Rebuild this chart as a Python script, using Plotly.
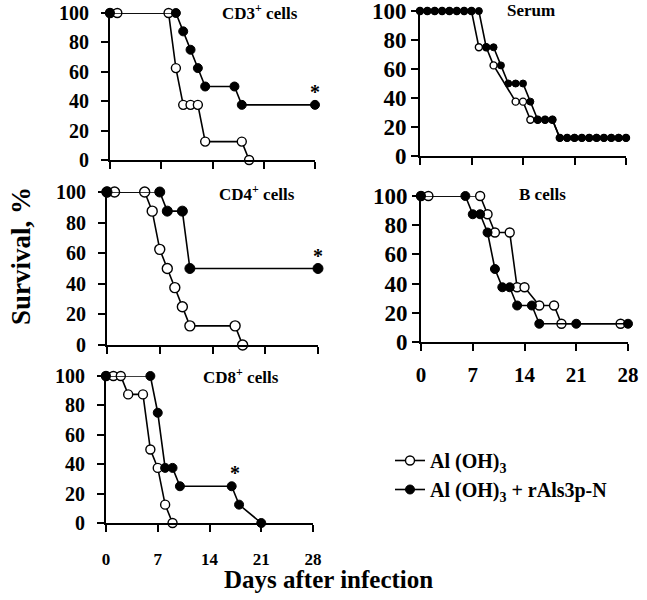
import plotly.graph_objects as go

# ---------------- data (days after infection, survival %) ----------------
ticks_days = [0, 7, 14, 21, 28]
ticks_surv = [0, 20, 40, 60, 80, 100]

cd3_ctrl_days = [0, 1, 8, 9, 10, 11, 12, 13, 18, 19]
cd3_ctrl_surv = [100, 100, 100, 62.5, 37.5, 37.5, 37.5, 12.5, 12.5, 0]
cd3_vacc_days = [0, 9, 10, 11, 12, 13, 17, 18, 28]
cd3_vacc_surv = [100, 100, 87.5, 75, 62.5, 50, 50, 37.5, 37.5]

serum_ctrl_days = [0, 1, 2, 3, 4, 5, 6, 7, 8, 9, 10, 13, 14, 15, 16, 17, 18,
                   19, 20, 21, 22, 23, 24, 25, 26, 27, 28]
serum_ctrl_surv = [100, 100, 100, 100, 100, 100, 100, 100, 75, 75, 62.5, 37.5, 37.5, 25, 25, 25, 25,
                   12.5, 12.5, 12.5, 12.5, 12.5, 12.5, 12.5, 12.5, 12.5, 12.5]
serum_vacc_days = [0, 1, 2, 3, 4, 5, 6, 7, 8, 9, 10, 11, 12, 13, 14, 15, 16, 17, 18,
                   19, 20, 21, 22, 23, 24, 25, 26, 27, 28]
serum_vacc_surv = [100, 100, 100, 100, 100, 100, 100, 100, 100, 75, 75, 62.5, 50, 50, 50, 37.5, 25, 25, 25,
                   12.5, 12.5, 12.5, 12.5, 12.5, 12.5, 12.5, 12.5, 12.5, 12.5]

cd4_ctrl_days = [0, 1, 5, 6, 7, 8, 9, 10, 11, 17, 18]
cd4_ctrl_surv = [100, 100, 100, 87.5, 62.5, 50, 37.5, 25, 12.5, 12.5, 0]
cd4_vacc_days = [0, 7, 8, 10, 11, 28]
cd4_vacc_surv = [100, 100, 87.5, 87.5, 50, 50]

b_ctrl_days = [0, 1, 8, 9, 10, 12, 13, 14, 16, 18, 19, 27]
b_ctrl_surv = [100, 100, 100, 87.5, 75, 75, 37.5, 37.5, 25, 25, 12.5, 12.5]
b_vacc_days = [0, 6, 7, 8, 9, 10, 11, 12, 13, 15, 16, 21, 28]
b_vacc_surv = [100, 100, 87.5, 87.5, 75, 50, 37.5, 37.5, 25, 25, 12.5, 12.5, 12.5]

cd8_ctrl_days = [0, 1, 2, 3, 5, 6, 7, 8, 9]
cd8_ctrl_surv = [100, 100, 100, 87.5, 87.5, 50, 37.5, 12.5, 0]
cd8_vacc_days = [0, 6, 7, 8, 9, 10, 17, 18, 21]
cd8_vacc_surv = [100, 100, 75, 37.5, 37.5, 25, 25, 12.5, 0]

panel_titles = ["CD3<sup>+</sup> cells", "Serum", "CD4<sup>+</sup> cells", "B cells", "CD8<sup>+</sup> cells"]
ctrl_name = "<b>Al (OH)<sub>3</sub></b>"
vacc_name = "<b>Al (OH)<sub>3</sub> + rAls3p-N</b>"
star_points = [(1, 28, 37.5), (3, 28, 50), (5, 17.5, 25)]   # (panel, day, survival) of significance marks

# ---------------- layout geometry ----------------
W, H = 647, 600
FONT = "Liberation Serif"

def dx(a, b):
    return [a / W, b / W]

def dy(top, bottom):
    return [1 - bottom / H, 1 - top / H]

panels = [
    dict(xd=dx(110, 315), yd=dy(13, 160), xlab=False, ms=9, yts=20, xts=17, xso=14, yso=8, tc=(260, 12)),
    dict(xd=dx(420, 626), yd=dy(11, 156), xlab=False, ms=7, yts=23, xts=21, xso=6, yso=0, tc=(531, 10)),
    dict(xd=dx(107, 318), yd=dy(192, 345), xlab=False, ms=10, yts=20, xts=17, xso=14, yso=8, tc=(257, 193)),
    dict(xd=dx(421, 628), yd=dy(196, 342), xlab=True, ms=9, yts=23, xts=21, xso=6, yso=0, tc=(542, 195)),
    dict(xd=dx(106, 313), yd=dy(376, 523), xlab=True, ms=9, yts=20, xts=17, xso=13, yso=8, tc=(241, 376)),
]

series = [
    (cd3_ctrl_days, cd3_ctrl_surv, cd3_vacc_days, cd3_vacc_surv),
    (serum_ctrl_days, serum_ctrl_surv, serum_vacc_days, serum_vacc_surv),
    (cd4_ctrl_days, cd4_ctrl_surv, cd4_vacc_days, cd4_vacc_surv),
    (b_ctrl_days, b_ctrl_surv, b_vacc_days, b_vacc_surv),
    (cd8_ctrl_days, cd8_ctrl_surv, cd8_vacc_days, cd8_vacc_surv),
]

fig = go.Figure()
layout = {}
annotations = []

for i, (p, s) in enumerate(zip(panels, series), start=1):
    xa = "x" if i == 1 else f"x{i}"
    ya = "y" if i == 1 else f"y{i}"
    cd, cs, vd, vs = s
    show = (i == 5)
    fig.add_trace(go.Scatter(
        x=cd, y=cs, xaxis=xa, yaxis=ya, mode="lines+markers", name=ctrl_name,
        showlegend=show, legendrank=1, cliponaxis=False,
        line=dict(color="black", width=1.6),
        marker=dict(symbol="circle", size=p["ms"], color="white", line=dict(color="black", width=1.4)),
    ))
    fig.add_trace(go.Scatter(
        x=vd, y=vs, xaxis=xa, yaxis=ya, mode="lines+markers", name=vacc_name,
        showlegend=show, legendrank=2, cliponaxis=False,
        line=dict(color="black", width=1.6),
        marker=dict(symbol="circle", size=p["ms"], color="black", line=dict(color="black", width=1)),
    ))
    xkey = "xaxis" if i == 1 else f"xaxis{i}"
    ykey = "yaxis" if i == 1 else f"yaxis{i}"
    layout[xkey] = dict(
        domain=p["xd"], anchor=ya, range=[0, 28], tickmode="array", tickvals=ticks_days,
        ticktext=[f"<b>{t}</b>" for t in ticks_days], automargin=False, ticklabeloverflow="allow",
        showticklabels=p["xlab"], ticks="outside", ticklen=7, tickwidth=2, tickcolor="black",
        showline=True, linewidth=2, linecolor="black", showgrid=False, zeroline=False,
        tickfont=dict(family=FONT, size=p["xts"], color="black"),
        ticklabelstandoff=p["xso"],
    )
    layout[ykey] = dict(
        domain=p["yd"], anchor=xa, range=[0, 100], tickmode="array", tickvals=ticks_surv,
        ticktext=[f"<b>{t}</b>" for t in ticks_surv], automargin=False, ticklabeloverflow="allow",
        ticks="outside", ticklen=7, tickwidth=2, tickcolor="black",
        showline=True, linewidth=2, linecolor="black", showgrid=False, zeroline=False,
        tickfont=dict(family=FONT, size=p["yts"], color="black"),
        ticklabelstandoff=p["yso"],
    )
    annotations.append(dict(
        text=f"<b>{panel_titles[i - 1]}</b>", xref="paper", yref="paper",
        x=p["tc"][0] / W, y=1 - p["tc"][1] / H, xanchor="center", yanchor="middle",
        showarrow=False, font=dict(family=FONT, size=17, color="black"),
    ))

for (pi, d, v) in star_points:
    xa = "x" if pi == 1 else f"x{pi}"
    ya = "y" if pi == 1 else f"y{pi}"
    annotations.append(dict(
        text="<b>*</b>", xref=xa, yref=ya, x=d, y=v, xanchor="center", yanchor="middle",
        yshift=13, showarrow=False, font=dict(family=FONT, size=20, color="black"),
    ))

annotations.append(dict(
    text="<b>Survival, %</b>", xref="paper", yref="paper", x=21 / W, y=1 - 256 / H,
    xanchor="center", yanchor="middle", textangle=-90, showarrow=False,
    font=dict(family=FONT, size=27, color="black"),
))
annotations.append(dict(
    text="<b>Days after infection</b>", xref="paper", yref="paper", x=328 / W, y=1 - 579 / H,
    xanchor="center", yanchor="middle", showarrow=False,
    font=dict(family=FONT, size=25, color="black"),
))

fig.update_layout(
    width=W, height=H, margin=dict(l=0, r=0, t=0, b=0, autoexpand=False),
    paper_bgcolor="white", plot_bgcolor="white",
    showlegend=True,
    legend=dict(x=390 / W, y=1 - 441 / H, xanchor="left", yanchor="top",
                bgcolor="rgba(0,0,0,0)", font=dict(family=FONT, size=20, color="black"),
                tracegroupgap=0, itemwidth=30),
    annotations=annotations,
    **layout,
)

fig.write_html("out.html", config={"displayModeBar": False},
               post_script="document.body.style.margin='0';document.body.style.overflow='hidden';")
